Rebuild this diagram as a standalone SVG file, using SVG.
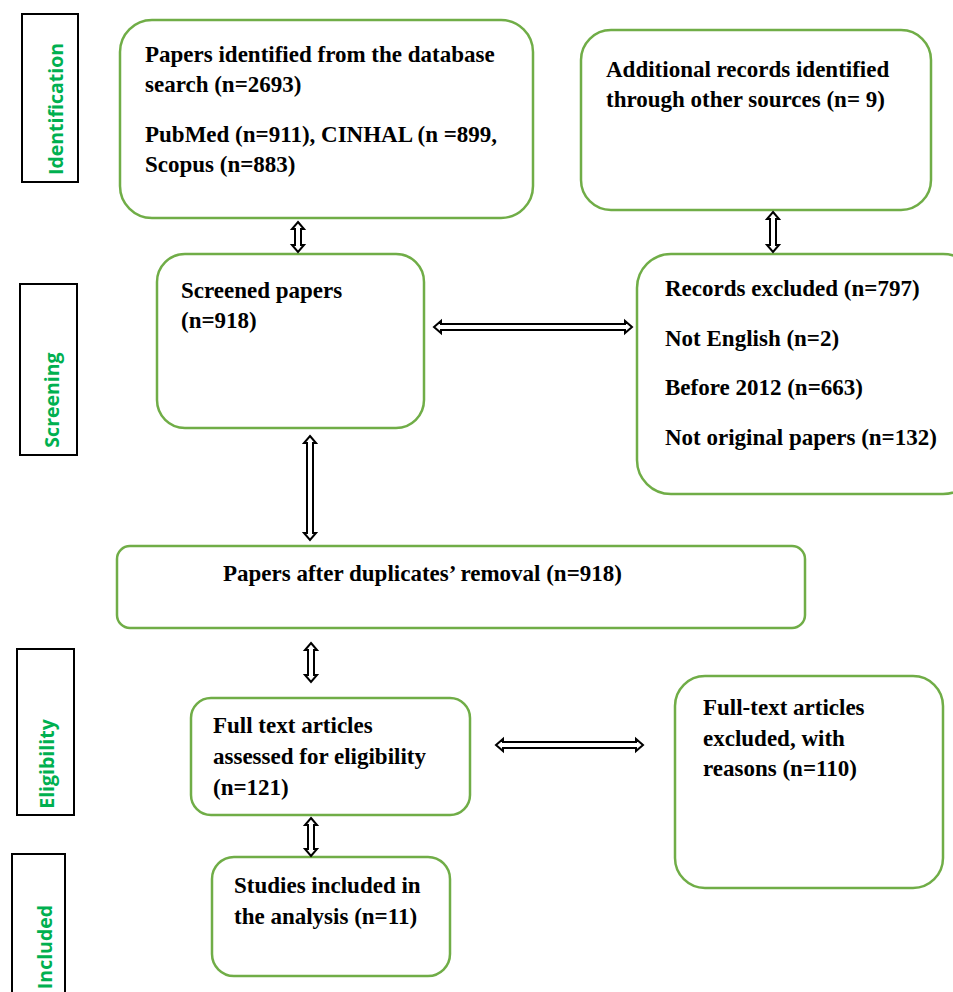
<svg xmlns="http://www.w3.org/2000/svg" width="953" height="992" viewBox="0 0 953 992">
<style>
.box{fill:#fff;stroke:#70ad47;stroke-width:2.5}
.side{fill:none;stroke:#000;stroke-width:2}
.t{font-family:"Liberation Serif","Times New Roman",serif;font-weight:bold;font-size:23px;fill:#000}
.s{font-family:"Open Sans","Liberation Sans",sans-serif;font-weight:bold;font-size:19.5px;fill:#00b050}
.arr{fill:#fff;stroke:#000;stroke-width:2;stroke-linejoin:miter}
</style>
<rect width="953" height="992" fill="#fff"/>
<g id="stage-identification">
<rect class="side" x="22" y="14" width="56" height="168"/>
<text class="s" transform="translate(63,109) rotate(-90)" x="0" y="0" text-anchor="middle">Identification</text>
</g>
<g id="stage-screening">
<rect class="side" x="20" y="284" width="57" height="171"/>
<text class="s" transform="translate(59,400) rotate(-90)" x="0" y="0" text-anchor="middle">Screening</text>
</g>
<g id="stage-eligibility">
<rect class="side" x="17" y="649" width="57" height="166"/>
<text class="s" transform="translate(54,764) rotate(-90)" x="0" y="0" text-anchor="middle">Eligibility</text>
</g>
<g id="stage-included">
<rect class="side" x="12" y="854" width="53" height="150"/>
<text class="s" transform="translate(52,947) rotate(-90)" x="0" y="0" text-anchor="middle">Included</text>
</g>
<g id="identified">
<rect class="box" x="120" y="20" width="413" height="198" rx="32"/>
<text class="t" x="145" y="62">Papers identified from the database</text>
<text class="t" x="145" y="92">search (n=2693)</text>
<text class="t" x="145" y="142">PubMed (n=911), CINHAL (n =899,</text>
<text class="t" x="145" y="172">Scopus (n=883)</text>
</g>
<g id="additional">
<rect class="box" x="581" y="30" width="350" height="180" rx="30"/>
<text class="t" x="606" y="77">Additional records identified</text>
<text class="t" x="606" y="107">through other sources (n= 9)</text>
</g>
<g id="screened">
<rect class="box" x="157" y="254" width="267" height="174" rx="28"/>
<text class="t" x="181" y="298">Screened papers</text>
<text class="t" x="181" y="328">(n=918)</text>
</g>
<g id="excluded-records">
<rect class="box" x="637" y="254" width="340" height="240" rx="34"/>
<text class="t" x="665" y="296">Records excluded (n=797)</text>
<text class="t" x="665" y="346">Not English (n=2)</text>
<text class="t" x="665" y="395">Before 2012 (n=663)</text>
<text class="t" x="665" y="445">Not original papers (n=132)</text>
</g>
<g id="duplicates">
<rect class="box" x="117" y="546" width="688" height="82" rx="13"/>
<text class="t" x="223" y="581">Papers after duplicates’ removal (n=918)</text>
</g>
<g id="fulltext">
<rect class="box" x="191" y="698" width="279" height="117" rx="20"/>
<text class="t" x="213" y="733">Full text articles</text>
<text class="t" x="213" y="764">assessed for eligibility</text>
<text class="t" x="213" y="795">(n=121)</text>
</g>
<g id="fulltext-excluded">
<rect class="box" x="675" y="676" width="268" height="212" rx="30"/>
<text class="t" x="703" y="715">Full-text articles</text>
<text class="t" x="703" y="746">excluded, with</text>
<text class="t" x="703" y="776">reasons (n=110)</text>
</g>
<g id="included">
<rect class="box" x="212" y="857" width="238" height="119" rx="22"/>
<text class="t" x="234" y="893">Studies included in</text>
<text class="t" x="234" y="924">the analysis (n=11)</text>
</g>
<g id="connectors">
<path class="arr" d="M298,222 L304,229 L301,229 L301,245 L304,245 L298,252 L292,245 L295,245 L295,229 L292,229 Z"/>
<path class="arr" d="M773,212 L779,219 L776,219 L776,245 L779,245 L773,252 L767,245 L770,245 L770,219 L767,219 Z"/>
<path class="arr" d="M434,327 L441,321 L441,324 L625,324 L625,321 L632,327 L625,333 L625,330 L441,330 L441,333 Z"/>
<path class="arr" d="M310,436 L316,443 L313,443 L313,533 L316,533 L310,540 L304,533 L307,533 L307,443 L304,443 Z"/>
<path class="arr" d="M311,643 L317,650 L314,650 L314,675 L317,675 L311,682 L305,675 L308,675 L308,650 L305,650 Z"/>
<path class="arr" d="M496,745 L503,739 L503,742 L636,742 L636,739 L643,745 L636,751 L636,748 L503,748 L503,751 Z"/>
<path class="arr" d="M311,818 L317,825 L314,825 L314,849 L317,849 L311,856 L305,849 L308,849 L308,825 L305,825 Z"/>
</g>
</svg>
